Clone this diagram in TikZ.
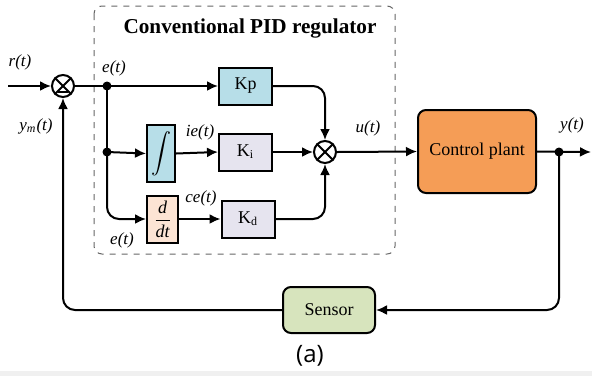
\documentclass[tikz,border=0pt]{standalone}
\usepackage{fontspec}
\setmainfont{Liberation Serif}
\newfontfamily\capfont{Open Sans}
\usepackage{tikz}
\usetikzlibrary{arrows.meta,shapes,positioning}
\definecolor{kpblue}{HTML}{B7DEE8}
\definecolor{kgray}{HTML}{E6E4EF}
\definecolor{dpeach}{HTML}{FCE4D4}
\definecolor{plantorange}{HTML}{F59D56}
\definecolor{sensgreen}{HTML}{D7E4BD}
\tikzset{
  basic/.style  = {draw, line width=1pt, rectangle, align=center,
                   font=\fontsize{9}{11}\selectfont, inner sep=0pt},
  gain/.style   = {basic, minimum width=26.5pt, minimum height=18.5pt},
  opbox/.style  = {basic, fill=kpblue, minimum width=14pt, minimum height=28.5pt},
  bigbox/.style = {basic, rounded corners=4pt},
  summ/.style   = {draw, line width=1pt, circle, minimum size=11pt, inner sep=0pt},
  sig/.style    = {font=\fontsize{8.5}{10}\selectfont\itshape, inner sep=0pt},
  dot/.style    = {circle, fill, inner sep=0pt, minimum size=4.5pt}
}
\begin{document}
\begin{tikzpicture}[x=0.5pt, y=-0.5pt, line width=1pt,
  >={Latex[length=5.5pt,width=5pt]}]
\useasboundingbox (0,0) rectangle (592,376);
\fill[gray!12] (0,371) rectangle (592,376);

% regulator frame
\draw[gray!80!black, line width=0.5pt, dashed, rounded corners=4pt]
  (94,6) rectangle (395,254);
\node[font=\fontsize{10.6}{12}\selectfont\bfseries] (title) at (250,28)
  {Conventional PID regulator};

% blocks
\node[summ] (s1) at (63,86) {};
\node[gain, fill=kpblue] (kp) at (245.5,86) {Kp};
\node[opbox] (int) at (161,153.5) {\fontsize{10.5}{12}\selectfont$\displaystyle\int$};
\node[gain, fill=kgray] (ki) at (245.5,152) {K\textsubscript{i}};
\node[basic, fill=dpeach, minimum width=15.5pt, minimum height=23.5pt] (der)
  at (162.5,219) {$\displaystyle\frac{\textit{d}}{\textit{dt}}$};
\node[gain, fill=kgray] (kd) at (248,219) {K\textsubscript{d}};
\node[summ] (s2) at (325,152) {};
\node[bigbox, fill=plantorange, minimum width=59pt, minimum height=41.5pt]
  (plant) at (477,151.5) {Control plant};
\node[bigbox, fill=sensgreen, minimum width=46pt, minimum height=23pt]
  (sensor) at (329,310) {Sensor};

% crosses in the summing points
\foreach \s in {s1,s2}{
  \draw (\s.north east) -- (\s.south west);
  \draw (\s.north west) -- (\s.south east);
}
\draw[line width=1.2pt] ([xshift=-2.4pt,yshift=-3pt]s1.center)
  -- ([xshift=2.4pt,yshift=-3pt]s1.center);

% branch points
\node[dot] (e1) at (107,86) {};
\node[dot] (e2) at (107,152) {};
\node[dot] (yo) at (559,152) {};
\coordinate (rin) at (8,86);
\coordinate (yout) at (591,152);

% signal labels
\node[sig] (lr) at (20,62) {r(t)};
\node[sig] (lym) at (36,126) {y\textsubscript{m}(t)};
\node[sig] (le1) at (114,68) {e(t)};
\node[sig] (lie) at (200,132) {ie(t)};
\node[sig] (lce) at (201,198) {ce(t)};
\node[sig] (le2) at (122,240) {e(t)};
\node[sig] (lu) at (368,128) {u(t)};
\node[sig] (ly) at (572,125) {y(t)};

% connections
\draw[->] (rin) -- (s1.west);
\draw[->] (s1.east) -- (kp.west);
\draw (e1.center) -- (e2.center);
\draw[->] (e2.center) -- (int.west);
\draw[->, rounded corners=6pt] (e2.center) |- (der.west);
\draw[->] (int.east) -- (ki.west);
\draw[->] (der.east) -- (kd.west);
\draw[->, rounded corners=6pt] (kp.east) -| (s2.north);
\draw[->] (ki.east) -- (s2.west);
\draw[->, rounded corners=6pt] (kd.east) -| (s2.south);
\draw[->] (s2.east) -- (plant.west);
\draw[->] (plant.east) -- (yout);
\draw[->, rounded corners=6pt] (yo.center) |- (sensor.east);
\draw[->, rounded corners=6pt] (sensor.west) -| (s1.south);

\node[font=\capfont\fontsize{12}{14}\selectfont] (cap) at (310,356) {(a)};
\end{tikzpicture}
\end{document}
